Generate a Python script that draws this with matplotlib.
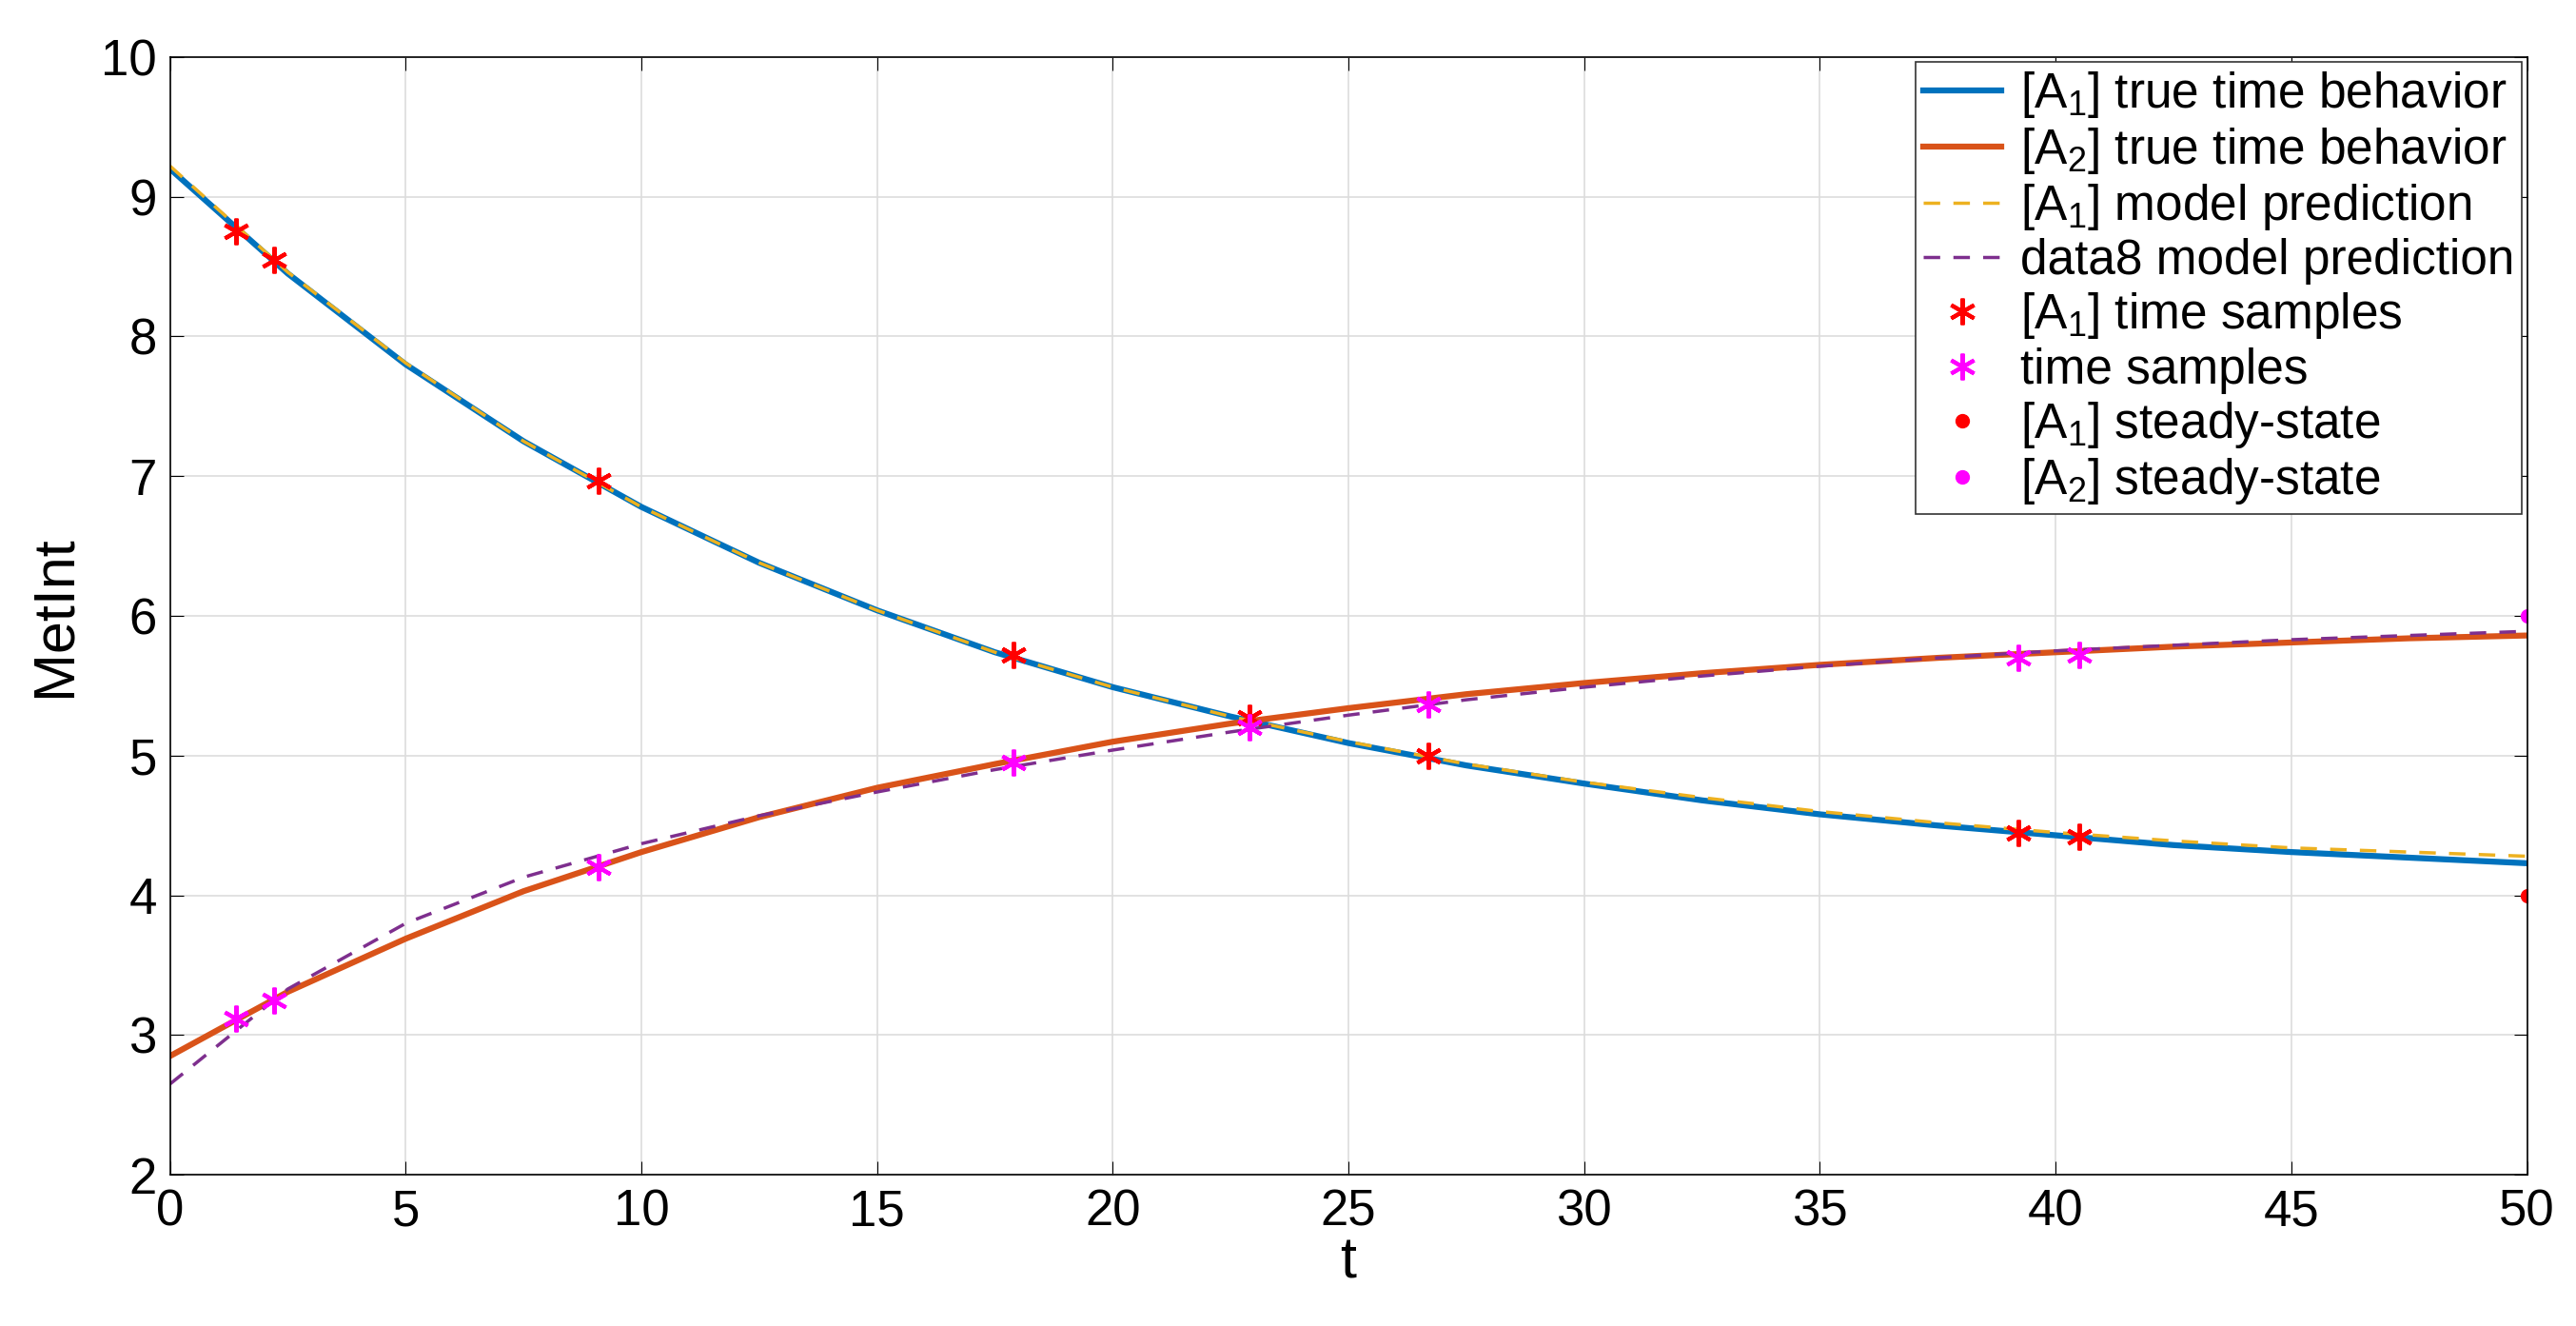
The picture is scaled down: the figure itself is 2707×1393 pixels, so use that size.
import matplotlib
matplotlib.use('Agg')
import matplotlib.pyplot as plt

plt.rcParams['font.family'] = ['Liberation Sans', 'DejaVu Sans']
plt.rcParams['mathtext.fontset'] = 'custom'
plt.rcParams['mathtext.rm'] = 'Liberation Sans'

t = [0, 2.5, 5, 7.5, 10, 12.5, 15, 17.5, 20, 22.5, 25, 27.5, 30, 32.5, 35, 37.5, 40, 42.5, 45, 47.5, 50]
a1_true = [9.2, 8.45, 7.80, 7.25, 6.78, 6.38, 6.04, 5.74, 5.49, 5.28, 5.09, 4.93, 4.80, 4.68, 4.58, 4.50, 4.43, 4.36, 4.31, 4.27, 4.23]
a2_true = [2.85, 3.31, 3.69, 4.03, 4.31, 4.56, 4.77, 4.94, 5.10, 5.23, 5.34, 5.44, 5.52, 5.59, 5.65, 5.70, 5.74, 5.78, 5.81, 5.84, 5.86]
a1_model = [9.22, 8.46, 7.81, 7.25, 6.78, 6.38, 6.04, 5.74, 5.49, 5.28, 5.10, 4.94, 4.81, 4.70, 4.60, 4.52, 4.45, 4.39, 4.34, 4.31, 4.28]
a2_model = [2.65, 3.33, 3.80, 4.13, 4.37, 4.57, 4.74, 4.90, 5.04, 5.17, 5.29, 5.40, 5.49, 5.57, 5.64, 5.70, 5.75, 5.79, 5.83, 5.86, 5.89]
ts = [1.4, 2.2, 9.1, 17.9, 22.9, 26.7, 39.2, 40.5]
a1_samples = [8.75, 8.55, 6.97, 5.72, 5.27, 5.0, 4.45, 4.42]
a2_samples = [3.12, 3.25, 4.2, 4.95, 5.2, 5.37, 5.7, 5.72]
t_ss = [50]
a1_ss = [4]
a2_ss = [6]

fig = plt.figure(figsize=(27.07, 13.93), dpi=100)
ax = fig.add_axes([0.066, 0.114, 0.915, 0.843])
ax.plot(t, a1_true, color='#0072BD', lw=4.5, label='[A$_1$] true time behavior')
ax.plot(t, a2_true, color='#D95319', lw=4.5, label='[A$_2$] true time behavior')
ax.plot(t, a1_model, color='#EDB120', lw=2.5, ls=(0, (5, 4)), label='[A$_1$] model prediction')
ax.plot(t, a2_model, color='#7E2F8E', lw=2.5, ls=(0, (5, 4)), label='data8 model prediction')
ax.plot(ts, a1_samples, ls='none', marker=(6, 2, 0), ms=20, mew=3, color='#FF0000', label='[A$_1$] time samples')
ax.plot(ts, a2_samples, ls='none', marker=(6, 2, 0), ms=20, mew=3, color='#FF00FF', label='time samples')
ax.plot(t_ss, a1_ss, ls='none', marker='o', ms=10, color='#FF0000', label='[A$_1$] steady-state')
ax.plot(t_ss, a2_ss, ls='none', marker='o', ms=10, color='#FF00FF', label='[A$_2$] steady-state')

ax.set_xlim(0, 50)
ax.set_ylim(2, 10)
ax.set_xticks(range(0, 51, 5))
ax.set_yticks(range(2, 11))
ax.grid(True, color='#dddddd', lw=1.2)
ax.tick_params(labelsize=38, direction='in', length=10, pad=10, top=True, right=True)
for s in ax.spines.values():
    s.set_linewidth(1.2)
ax.set_xlabel('t', fontsize=44, labelpad=0)
ax.set_ylabel('MetInt', fontsize=44, labelpad=14)
leg = ax.legend(loc='upper right', fontsize=37, frameon=True, fancybox=False,
                edgecolor='#333333', framealpha=1, borderaxespad=0.1,
                handlelength=1.6, handletextpad=0.4, labelspacing=0.12, borderpad=0.15)
leg.get_frame().set_linewidth(1.2)
fig.savefig('out.png', dpi=100)
